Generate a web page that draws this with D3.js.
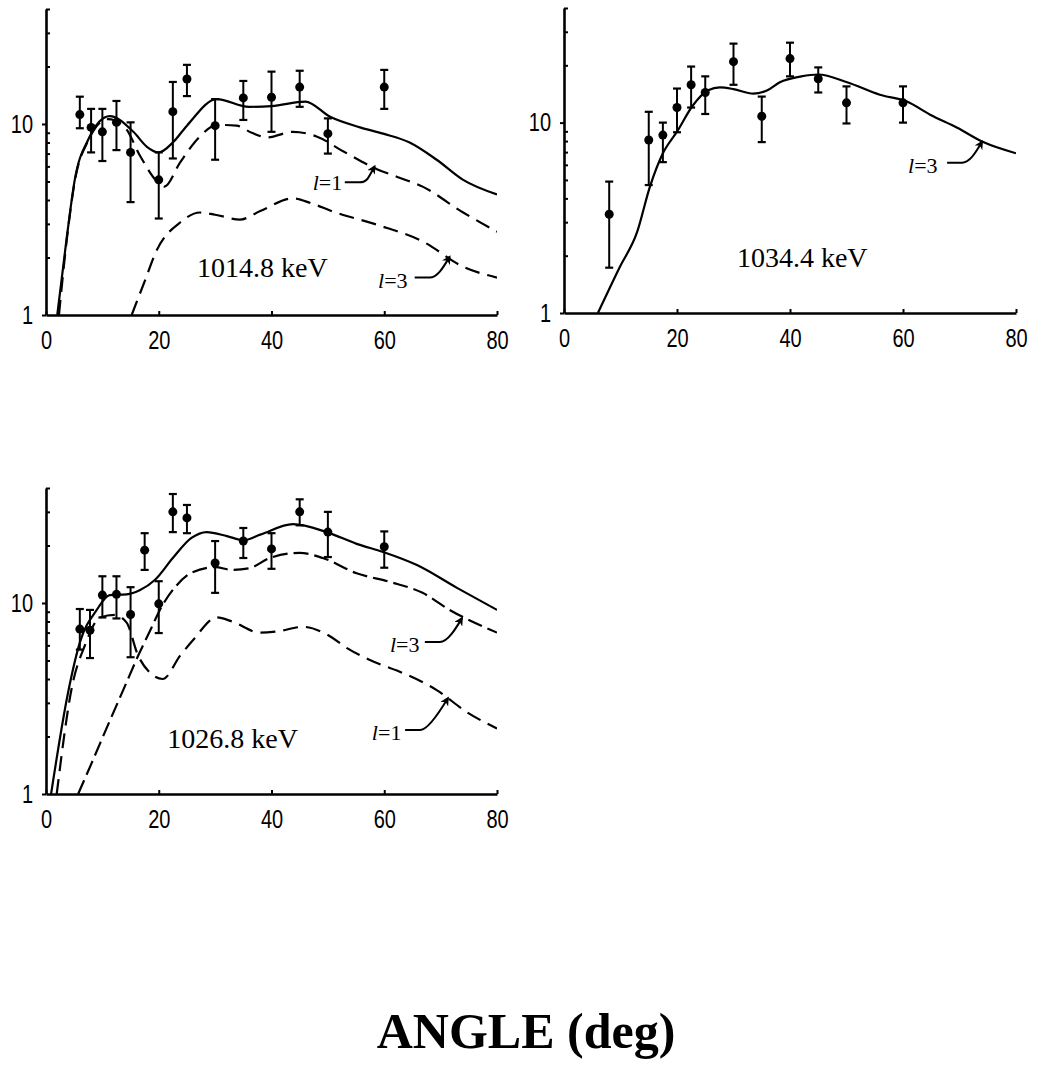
<!DOCTYPE html>
<html>
<head>
<meta charset="utf-8">
<script src="https://cdn.jsdelivr.net/npm/d3@7"></script>
<style>
  body { margin: 0; background: #fff; }
</style>
</head>
<body>
<svg id="chart"></svg>
<script>
// ---- 1014.8 keV: measured points ----
const anglesA = [6, 8, 10, 12.5, 15, 20, 22.5, 25, 30, 35, 40, 45, 50, 60];
const valuesA = [11.2, 9.6, 9.1, 10.2, 7.1, 5.1, 11.6, 17.2, 9.8, 13.7, 13.8, 15.6, 8.9, 15.6];
const highA   = [13.9, 12.0, 12.0, 13.2, 10.2, 7.1, 16.6, 20.4, 13.5, 16.8, 18.8, 19.0, 10.7, 19.2];
const lowA    = [9.5, 7.1, 6.4, 7.3, 3.9, 3.2, 6.6, 14.0, 6.5, 10.5, 9.1, 12.3, 7.0, 12.0];
// fitted curves
const sumAngA = [2, 3.7, 5.1, 7.5, 11.3, 15.5, 17.9, 20, 22.5, 25, 30.3, 36, 40, 46, 50.4, 55.7, 59.8, 64.5, 69.3, 74, 80];
const sumValA = [1, 2.57, 5.1, 8.3, 11.0, 9.1, 7.6, 7.1, 8.0, 9.8, 13.5, 12.3, 12.4, 13.1, 10.9, 9.6, 8.9, 8.0, 6.5, 5.1, 4.28];
const l1AngA  = [2.3, 3.7, 5.1, 7.5, 11, 14, 16.7, 19.7, 21, 23.8, 27.3, 30.3, 33.8, 36.5, 39.2, 43.8, 48, 52.7, 58.7, 62.2, 66.8, 74, 80];
const l1ValA  = [1, 2.5, 5.0, 8.2, 10.6, 9.6, 6.8, 5.0, 4.7, 6.3, 8.6, 9.9, 9.8, 9.0, 8.5, 9.1, 8.6, 7.2, 5.8, 5.3, 4.7, 3.44, 2.73];
const l3AngA  = [15.2, 17.5, 19.7, 23.8, 27.3, 30, 34.4, 38, 43.8, 47, 50.9, 58.7, 66.9, 74, 80];
const l3ValA  = [1, 1.5, 2.2, 3.05, 3.44, 3.35, 3.16, 3.5, 4.08, 3.85, 3.48, 2.97, 2.42, 1.79, 1.57];

// ---- 1034.4 keV ----
const anglesB = [8, 15, 17.5, 20, 22.5, 25, 30, 35, 40, 45, 50, 60];
const valuesB = [3.3, 8.1, 8.6, 12.0, 15.8, 14.4, 20.9, 10.8, 21.7, 17.0, 12.7, 12.7];
const highB   = [4.9, 11.4, 10.0, 15.1, 19.7, 17.5, 26.0, 13.7, 26.3, 19.5, 15.5, 15.5];
const lowB    = [1.73, 4.7, 6.2, 8.9, 12.0, 11.1, 15.8, 7.9, 17.5, 14.4, 9.9, 10.0];
const l3AngB  = [6, 9.9, 12.9, 15.2, 17.5, 20, 22.8, 25.5, 27.6, 30, 33.5, 36, 38.2, 42, 45, 50.1, 55.9, 60.7, 64.8, 69.6, 74.2, 80];
const l3ValB  = [1, 1.75, 2.64, 4.6, 6.9, 8.96, 12.3, 14.8, 15.3, 15.0, 14.2, 14.8, 16.3, 17.5, 17.9, 16.3, 14.0, 12.9, 11.0, 9.4, 7.9, 6.9];

// ---- 1026.8 keV ----
const anglesC = [6, 7.8, 10, 12.5, 15, 17.5, 20, 22.5, 25, 30, 35, 40, 45, 50, 60];
const valuesC = [7.3, 7.2, 11.0, 11.1, 8.7, 18.9, 9.9, 30.0, 27.9, 16.2, 21.1, 19.2, 30.0, 23.5, 19.7];
const highC   = [9.3, 9.2, 13.8, 13.8, 12.1, 23.2, 13.0, 37.2, 32.6, 21.1, 24.7, 23.2, 34.9, 30.0, 23.7];
const lowC    = [5.7, 5.15, 8.4, 8.3, 5.2, 14.9, 6.96, 23.5, 23.2, 11.3, 17.2, 15.1, 25.5, 17.4, 15.3];
const sumAngC = [0.9, 3.9, 6, 9, 11.3, 14.3, 16.7, 19.3, 22.5, 25.8, 28.5, 32.1, 35, 38, 43.8, 49.8, 55.1, 59.8, 65.8, 72.9, 80];
const sumValC = [1, 3.38, 6.2, 9.2, 11.0, 11.1, 11.7, 13.2, 17.2, 21.9, 23.5, 22.4, 21.3, 22.8, 25.9, 23.5, 20.4, 18.5, 15.8, 12.0, 9.2];
const l1AngC  = [1.9, 4.6, 6.9, 9.6, 12.2, 14.3, 16.3, 18.5, 20.7, 23.8, 26.1, 30.3, 33, 37.9, 41, 45.6, 50, 53.4, 58.7, 63.3, 69.3, 74.6, 80];
const l1ValC  = [1, 3.63, 6.0, 8.4, 8.66, 7.9, 5.34, 4.3, 4.0, 5.3, 6.4, 8.4, 8.0, 7.0, 7.1, 7.5, 6.8, 5.8, 4.85, 4.3, 3.5, 2.69, 2.2];
const l3AngC  = [5.7, 8, 11, 14, 16.4, 18.5, 20.2, 23.2, 26, 30, 33, 36, 39.7, 45, 49.1, 55.1, 61, 66.8, 71.6, 80];
const l3ValC  = [1, 1.43, 2.3, 3.67, 5.34, 7.2, 9.2, 12.4, 14.5, 15.4, 14.9, 15.2, 17.2, 18.3, 17.2, 14.3, 12.9, 11.3, 9.2, 7.0];

const xTicks = [0, 20, 40, 60, 80];
const yMajor = [1, 10];
const yMinor = [2, 3, 4, 5, 6, 7, 8, 9, 20, 30, 40];

const W = 1040, H = 1071;
const TICK_FONT = '"Liberation Sans", Arial, sans-serif';
const TICK_SQUEEZE = 0.8;   // tick labels in the original are a condensed sans
const SERIF = '"Liberation Serif", "DejaVu Serif", serif';

const zip = (a, v) => a.map((d, i) => [d, v[i]]);

const panels = [
    {
        box: {left: 46, right: 497, bottom: 315, top: 9},
        title: '1014.8 keV', titleAt: [26.8, 1.58],
        points: {a: anglesA, v: valuesA, lo: lowA, hi: highA},
        curves: [
            {data: zip(sumAngA, sumValA), dash: null},
            {data: zip(l1AngA, l1ValA), dash: '15,8'},
            {data: zip(l3AngA, l3ValA), dash: '15,8'}
        ],
        notes: [
            {text: '1', at: [47.3, 4.5], from: [53, 4.95], to: [58.3, 6.0]},
            {text: '3', at: [58.9, 1.39], from: [65.4, 1.57], to: [71.6, 2.02]}
        ]
    },
    {
        box: {left: 564, right: 1016, bottom: 313, top: 8},
        title: '1034.4 keV', titleAt: [30.6, 1.75],
        points: {a: anglesB, v: valuesB, lo: lowB, hi: highB},
        curves: [
            {data: zip(l3AngB, l3ValB), dash: null}
        ],
        notes: [
            {text: '3', at: [60.9, 5.45], from: [67.8, 6.16], to: [74, 7.94]}
        ]
    },
    {
        box: {left: 46, right: 497, bottom: 794, top: 488},
        title: '1026.8 keV', titleAt: [21.5, 1.74],
        points: {a: anglesC, v: valuesC, lo: lowC, hi: highC},
        curves: [
            {data: zip(sumAngC, sumValC), dash: null},
            {data: zip(l3AngC, l3ValC), dash: '15,6'},
            {data: zip(l1AngC, l1ValC), dash: '15,8'}
        ],
        notes: [
            {text: '3', at: [61, 5.53], from: [67.2, 6.24], to: [73.8, 8.34]},
            {text: '1', at: [57.8, 1.92], from: [63.7, 2.16], to: [71.3, 3.18]}
        ]
    }
];

const svg = d3.select('#chart')
    .attr('width', W)
    .attr('height', H)
    .style('background', '#fff');

svg.append('defs').append('marker')
    .attr('id', 'arrow')
    .attr('viewBox', '0 0 10 10')
    .attr('refX', 8)
    .attr('refY', 5)
    .attr('markerWidth', 9)
    .attr('markerHeight', 9)
    .attr('markerUnits', 'userSpaceOnUse')
    .attr('orient', 'auto')
    .append('path')
    .attr('d', 'M0,0 L10,5 L0,10 L3,5 Z')
    .attr('fill', '#000');

function renderPanel(p, idx) {
    const b = p.box;
    const x = d3.scaleLinear().domain([0, 80]).range([b.left, b.right]);
    const y = d3.scaleLog().domain([1, 40]).range([b.bottom, b.top]);
    const g = svg.append('g');

    const clipId = `clip${idx}`;
    g.append('clipPath').attr('id', clipId)
        .append('rect')
        .attr('x', b.left).attr('y', b.top)
        .attr('width', b.right - b.left).attr('height', b.bottom - b.top);

    // x axis, ticks pointing up into the plot
    const xg = g.append('g')
        .attr('transform', `translate(0,${b.bottom})`)
        .call(d3.axisBottom(x).tickValues(xTicks).tickSizeInner(-4).tickSizeOuter(0).tickPadding(16));
    xg.attr('font-family', TICK_FONT).attr('font-size', 25);
    xg.selectAll('.tick text').attr('transform', `scale(${TICK_SQUEEZE},1)`);

    // y axis with decade labels
    const yg = g.append('g')
        .attr('transform', `translate(${b.left},0)`)
        .call(d3.axisLeft(y).tickValues(yMajor).tickFormat(d3.format('d')).tickSizeInner(4).tickSizeOuter(0));
    yg.attr('font-family', TICK_FONT).attr('font-size', 25);
    yg.selectAll('.tick text')
        .attr('x', -13 / TICK_SQUEEZE)
        .attr('transform', `scale(${TICK_SQUEEZE},1)`);

    // minor log ticks on the inside
    const mg = g.append('g')
        .attr('transform', `translate(${b.left},0)`)
        .call(d3.axisLeft(y).tickValues(yMinor).tickFormat('').tickSizeInner(-4).tickSizeOuter(0));
    mg.select('.domain').remove();

    [xg, yg, mg].forEach(a => {
        a.selectAll('.domain').attr('stroke', '#000').attr('stroke-width', 2.6);
        a.selectAll('.tick line').attr('stroke', '#000').attr('stroke-width', 2);
        a.selectAll('.tick text').attr('fill', '#000');
    });

    // theory curves
    const line = d3.line()
        .x(d => x(d[0]))
        .y(d => y(d[1]))
        .curve(d3.curveMonotoneX);

    g.append('g').attr('clip-path', `url(#${clipId})`)
        .selectAll('path')
        .data(p.curves)
        .join('path')
        .attr('d', d => line(d.data))
        .attr('fill', 'none')
        .attr('stroke', '#000')
        .attr('stroke-width', 2.2)
        .attr('stroke-dasharray', d => d.dash);

    // data points with error bars
    const pts = p.points.a.map((a, i) => ({a, v: p.points.v[i], lo: p.points.lo[i], hi: p.points.hi[i]}));
    const pg = g.append('g').selectAll('g').data(pts).join('g');
    pg.append('line')
        .attr('x1', d => x(d.a)).attr('x2', d => x(d.a))
        .attr('y1', d => y(d.lo)).attr('y2', d => y(d.hi))
        .attr('stroke', '#000').attr('stroke-width', 2);
    ['lo', 'hi'].forEach(k => {
        pg.append('line')
            .attr('x1', d => x(d.a) - 4).attr('x2', d => x(d.a) + 4)
            .attr('y1', d => y(d[k])).attr('y2', d => y(d[k]))
            .attr('stroke', '#000').attr('stroke-width', 2.2);
    });
    pg.append('circle')
        .attr('cx', d => x(d.a))
        .attr('cy', d => y(d.v))
        .attr('r', 4.5)
        .attr('fill', '#000');

    // energy label
    g.append('text')
        .attr('x', x(p.titleAt[0]))
        .attr('y', y(p.titleAt[1]))
        .attr('font-family', SERIF)
        .attr('font-size', 28)
        .text(p.title);

    // l = n annotations with arrows
    p.notes.forEach(n => {
        const t = g.append('text')
            .attr('x', x(n.at[0]))
            .attr('y', y(n.at[1]))
            .attr('font-family', SERIF)
            .attr('font-size', 22);
        t.append('tspan').attr('font-style', 'italic').text('l');
        t.append('tspan').text('=' + n.text);

        const sx = x(n.from[0]), sy = y(n.from[1]);
        const tx = x(n.to[0]), ty = y(n.to[1]);
        const kx = sx + 15;
        g.append('path')
            .attr('d', `M${sx},${sy} L${kx},${sy} C${kx + 8},${sy} ${tx - 6},${ty + 10} ${tx},${ty}`)
            .attr('fill', 'none')
            .attr('stroke', '#000')
            .attr('stroke-width', 2)
            .attr('marker-end', 'url(#arrow)');
    });
}

panels.forEach(renderPanel);

svg.append('text')
    .attr('x', 526)
    .attr('y', 1048)
    .attr('text-anchor', 'middle')
    .attr('font-family', SERIF)
    .attr('font-weight', 'bold')
    .attr('font-size', 50)
    .text('ANGLE (deg)');
</script>
</body>
</html>
